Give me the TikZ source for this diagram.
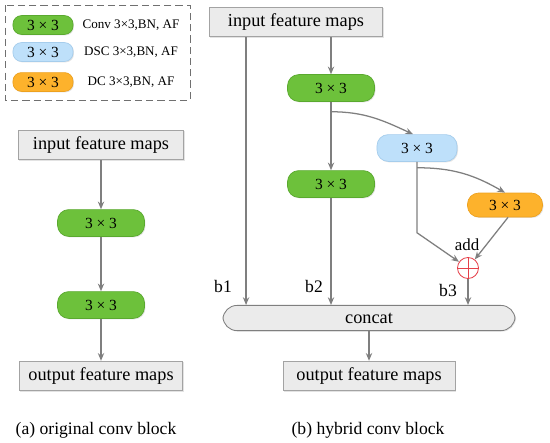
\documentclass[tikz,border=0pt]{standalone}
\usepackage{fontspec}
\setmainfont{Liberation Serif}
\usetikzlibrary{arrows.meta, calc, shadows}
\definecolor{convgreen}{HTML}{6DC13B}
\definecolor{convedge}{HTML}{5AA92F}
\definecolor{dscblue}{HTML}{BEE0FA}
\definecolor{dscedge}{HTML}{A6CDEC}
\definecolor{dcorange}{HTML}{FDB22C}
\definecolor{dcedge}{HTML}{EDA11F}
\definecolor{boxgray}{HTML}{EBEBEB}
\definecolor{boxedge}{HTML}{A3A3A3}
\definecolor{arrgray}{HTML}{7F7F7F}
\definecolor{addred}{HTML}{E5404A}
\definecolor{frame}{HTML}{707070}

\begin{document}
\begin{tikzpicture}[
  x=0.025cm, y=0.025cm,
  >={Stealth[length=5.5pt, width=4.5pt]},
  arr/.style={->, arrgray, line width=0.9pt},
  shd/.style={drop shadow={shadow xshift=0.7pt, shadow yshift=-0.7pt, opacity=0.22}},
  mapbox/.style={draw=boxedge, fill=boxgray, line width=0.6pt, shd,
    minimum height=0.74cm, inner sep=0pt, font=\fontsize{13}{15}\selectfont},
  pill/.style={line width=0.5pt, rounded corners=8pt, shd, inner sep=0pt,
    minimum width=2.175cm, minimum height=0.67cm, font=\fontsize{11}{13}\selectfont},
  conv/.style={pill, fill=convgreen, draw=convedge},
  dsc/.style={pill, fill=dscblue, draw=dscedge, minimum width=2cm},
  dcv/.style={pill, fill=dcorange, draw=dcedge, minimum width=1.875cm, minimum height=0.6cm},
  key/.style={minimum width=1.5cm, minimum height=0.47cm, rounded corners=6pt},
  keytxt/.style={font=\fontsize{9.3}{11}\selectfont},
  lbl/.style={font=\fontsize{12.5}{14}\selectfont},
]
\useasboundingbox (0,0) rectangle (550,-442);

% ══════════════════════════════════════════════════════
% Legend
% ══════════════════════════════════════════════════════
\draw[frame, line width=0.7pt, dash pattern=on 5pt off 3pt]
  (5,-5) rectangle (190,-100);
\node[conv, key] (keyConv) at (43,-25) {3 × 3};
\node[dsc, key]  (keyDsc)  at (43,-52) {3 × 3};
\node[dcv, key]  (keyDc)   at (43,-82) {3 × 3};
\node[keytxt] (txtConv) at (131,-25) {Conv 3×3,BN, AF};
\node[keytxt] (txtDsc)  at (131,-52) {DSC 3×3,BN, AF};
\node[keytxt] (txtDc)   at (131,-82) {DC 3×3,BN, AF};

% ══════════════════════════════════════════════════════
% (a) original conv block
% ══════════════════════════════════════════════════════
\node[mapbox, minimum width=4.125cm] (inA)  at (101,-145) {input feature maps};
\node[conv] (convA1) at (101,-223) {3 × 3};
\node[conv] (convA2) at (101,-305) {3 × 3};
\node[mapbox, minimum width=4.075cm] (outA) at (101,-376) {output feature maps};

\draw[arr] (inA) -- (convA1);
\draw[arr] (convA1) -- (convA2);
\draw[arr] (convA2) -- (outA);

\node[lbl] (capA) at (96,-430) {(a) original conv block};

% ══════════════════════════════════════════════════════
% (b) hybrid conv block
% ══════════════════════════════════════════════════════
\node[mapbox, minimum width=4.325cm] (inB) at (296,-22) {input feature maps};
\node[conv] (convB1) at (331,-88)  {3 × 3};
\node[conv] (convB2) at (331,-184) {3 × 3};
\node[dsc]  (dscB)   at (417,-148) {3 × 3};
\node[dcv]  (dcB)    at (505,-205) {3 × 3};
\node[circle, draw=addred, line width=0.6pt, minimum size=0.525cm, inner sep=0pt]
  (add) at (468,-268) {};
\node[draw=arrgray, fill=boxgray, line width=0.6pt, shd, rounded corners=10pt,
  minimum width=7.3cm, minimum height=0.63cm, inner sep=0pt,
  font=\fontsize{13}{15}\selectfont] (concat) at (369,-318) {concat};
\node[mapbox, minimum width=4.3cm] (outB) at (369,-376) {output feature maps};

% plus sign in the add circle
\draw[addred, line width=0.6pt] (add.north) -- (add.south) (add.west) -- (add.east);

% branch b1
\coordinate (tapB1) at ($(inB.south west)+(37,0)$);
\draw[arr] (tapB1) -- (tapB1 |- concat.north);

% branch b2
\draw[arr] (inB.south -| convB1) -- (convB1.north);
\draw[arr] (convB1) -- (convB2);
\draw[arr] (convB2.south) -- (convB2.south |- concat.north);

% branch b3
\coordinate (split1) at ($(convB1.south)+(0,-10)$);
\draw[arr] (split1) to[out=0, in=155] ($(dscB.north)+(-4,0)$);
\coordinate (split2) at ($(dscB.south)+(0,-6)$);
\draw[arr] (split2) to[out=0, in=150] (dcB.north);
\draw[arr] (dscB.south) -- ++(0,-71) -- (add);
\draw[arr] ($(dcB.south)+(3,0)$) -- (add);
\draw[arr] (add) -- (add |- concat.north);

\draw[arr] (concat) -- (outB);

% branch labels
\node[lbl] (lblB1)  at (223,-286) {b1};
\node[lbl] (lblB2)  at (314,-286) {b2};
\node[lbl] (lblB3)  at (448,-290) {b3};
\node[lbl, font=\fontsize{12}{14}\selectfont] (lblAdd) at (467,-245) {add};

\node[lbl] (capB) at (368,-430) {(b) hybrid conv block};

\end{tikzpicture}
\end{document}
